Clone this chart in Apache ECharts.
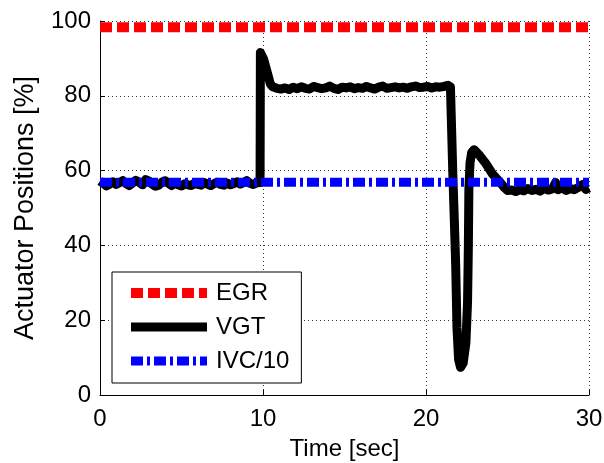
<!DOCTYPE html>
<html><head><meta charset="utf-8">
<script src="https://cdn.jsdelivr.net/npm/echarts@6/dist/echarts.min.js"></script>
<style>html,body{margin:0;padding:0;background:#fff}#c{width:604px;height:463px}</style>
</head><body><div id="c"></div>
<script>
const FONT = "'Liberation Sans', Arial, Helvetica, sans-serif";
const xTicks = [0, 10, 20, 30];
const yTicks = [0, 20, 40, 60, 80, 100];
const seriesNames = ['EGR', 'VGT', 'IVC/10'];
const xTitle = 'Time [sec]';
const yTitle = 'Actuator Positions [%]';

const egrTime = [0, 30];
const egrValue = [98.3, 98.3];
const ivcTime = [0, 30];
const ivcValue = [56.9, 56.9];

const vgtTime = [
  0.0,0.2,0.4,0.6,0.8,1.0,1.2,1.4,1.6,1.8,2.0,2.2,2.4,2.6,2.8,3.0,3.2,3.4,3.6,3.8,
  4.0,4.2,4.4,4.6,4.8,5.0,5.2,5.4,5.6,5.8,6.0,6.2,6.4,6.6,6.8,7.0,7.2,7.4,7.6,7.8,
  8.0,8.2,8.4,8.6,8.8,9.0,9.2,9.4,9.6,
  9.72,9.82,9.84,9.95,10.04,10.17,10.32,10.45,10.6,
  10.85,11.1,11.35,11.6,11.85,12.1,12.35,12.6,12.85,13.1,13.35,13.6,13.85,14.1,14.35,
  14.6,14.85,15.1,15.35,15.6,15.85,16.1,16.35,16.6,16.85,17.1,17.35,17.6,17.85,18.1,
  18.35,18.6,18.85,19.1,19.35,19.6,19.85,20.1,20.35,20.6,20.85,21.1,21.35,21.5,
  21.56,21.64,21.75,21.82,21.9,22.0,22.12,22.28,22.45,22.55,22.6,22.63,22.7,22.8,22.95,
  23.3,23.67,24.08,24.5,24.8,25.0,
  25.25,25.5,25.75,26.0,26.25,26.5,26.75,27.0,27.25,27.5,27.75,27.95,28.1,28.35,28.6,
  28.85,29.1,29.35,29.6,29.8,30.0
];
const vgtValue = [
  57.2,56.6,55.9,56.4,57.0,56.3,56.8,57.3,56.5,56.0,56.7,57.4,56.9,56.2,57.6,57.2,56.4,55.8,56.1,56.9,
  57.3,56.6,56.0,56.7,56.2,55.9,56.5,56.2,56.0,56.6,56.3,56.1,56.8,56.4,56.0,56.5,56.9,56.3,56.1,56.7,
  56.2,56.5,57.0,56.4,56.8,57.3,56.6,56.3,56.7,
  56.6,56.8,91.6,91.8,89.8,87.7,85.3,83.2,82.4,
  82.0,81.8,82.1,81.7,82.3,81.9,82.4,82.0,81.8,82.5,82.2,81.9,82.1,82.6,82.0,
  81.7,82.3,82.1,82.4,81.9,82.2,82.0,82.5,82.1,81.8,82.3,82.6,82.0,82.2,82.4,
  82.1,82.3,82.0,82.4,82.6,82.2,82.3,82.5,82.1,82.4,82.3,82.5,82.8,82.4,
  82.3,60,45,35,18,9.5,7.4,8.5,14,25,40,55,62,64.8,65.6,
  64.0,61.9,59.1,57.1,55.5,54.7,
  54.8,54.4,54.9,54.6,55.2,54.7,55.0,54.5,55.3,54.8,55.1,56.8,54.9,55.4,54.7,
  55.2,54.9,55.5,56.3,55.0,55.4
];

function pairs(ts, vs) { return ts.map((t, i) => [t, vs[i]]); }

const chart = echarts.init(document.getElementById('c'), null, {renderer: 'canvas'});
const gridLine = {show: true, lineStyle: {color: '#333', width: 1, type: [1, 3]}};
chart.setOption({
  animation: false,
  backgroundColor: '#fff',
  textStyle: {fontFamily: FONT},
  grid: {left: 100, right: 15, top: 21, bottom: 68, containLabel: false, outerBoundsMode: 'none'},
  xAxis: {
    type: 'value', min: xTicks[0], max: xTicks[xTicks.length - 1], interval: 10,
    name: xTitle, nameLocation: 'middle', nameGap: 42,
    nameTextStyle: {color: '#000', fontSize: 24, fontFamily: FONT},
    axisLine: {lineStyle: {color: '#000', width: 1}},
    axisTick: {show: true, inside: true, length: 5, lineStyle: {color: '#000'}},
    axisLabel: {color: '#000', fontSize: 24, fontFamily: FONT, margin: 12},
    splitLine: gridLine
  },
  yAxis: {
    type: 'value', min: yTicks[0], max: yTicks[yTicks.length - 1], interval: 20,
    name: yTitle, nameLocation: 'middle', nameGap: 61, nameRotate: 90,
    nameTextStyle: {color: '#000', fontSize: 27, fontFamily: FONT},
    axisLine: {show: true, lineStyle: {color: '#000', width: 1}},
    axisTick: {show: true, inside: true, length: 5, lineStyle: {color: '#000'}},
    axisLabel: {color: '#000', fontSize: 24, fontFamily: FONT, margin: 9},
    splitLine: gridLine
  },
  legend: {
    orient: 'vertical', left: 112, top: 272,
    backgroundColor: '#fff', borderColor: '#000', borderWidth: 1,
    padding: [9, 12, 10, 14], itemGap: 10, itemWidth: 76, itemHeight: 24,
    lineStyle: {width: 'inherit'},
    itemStyle: {opacity: 0},
    textStyle: {color: '#000', fontSize: 24, fontFamily: FONT, padding: [0, 0, 0, 4]},
    data: seriesNames
  },
  series: [
    {name: seriesNames[0], type: 'line', symbol: 'none', data: pairs(egrTime, egrValue),
     lineStyle: {color: '#ff0000', width: 10, type: [12, 5], cap: 'butt'}, itemStyle: {color: '#ff0000'}},
    {name: seriesNames[1], type: 'line', symbol: 'none', data: pairs(vgtTime, vgtValue),
     lineStyle: {color: '#000', width: 9, join: 'round'}, itemStyle: {color: '#000'}},
    {name: seriesNames[2], type: 'line', symbol: 'none', data: pairs(ivcTime, ivcValue),
     lineStyle: {color: '#0000ff', width: 9, type: [12, 4, 3, 4], cap: 'butt'}, itemStyle: {color: '#0000ff'}}
  ]
});
</script></body></html>
